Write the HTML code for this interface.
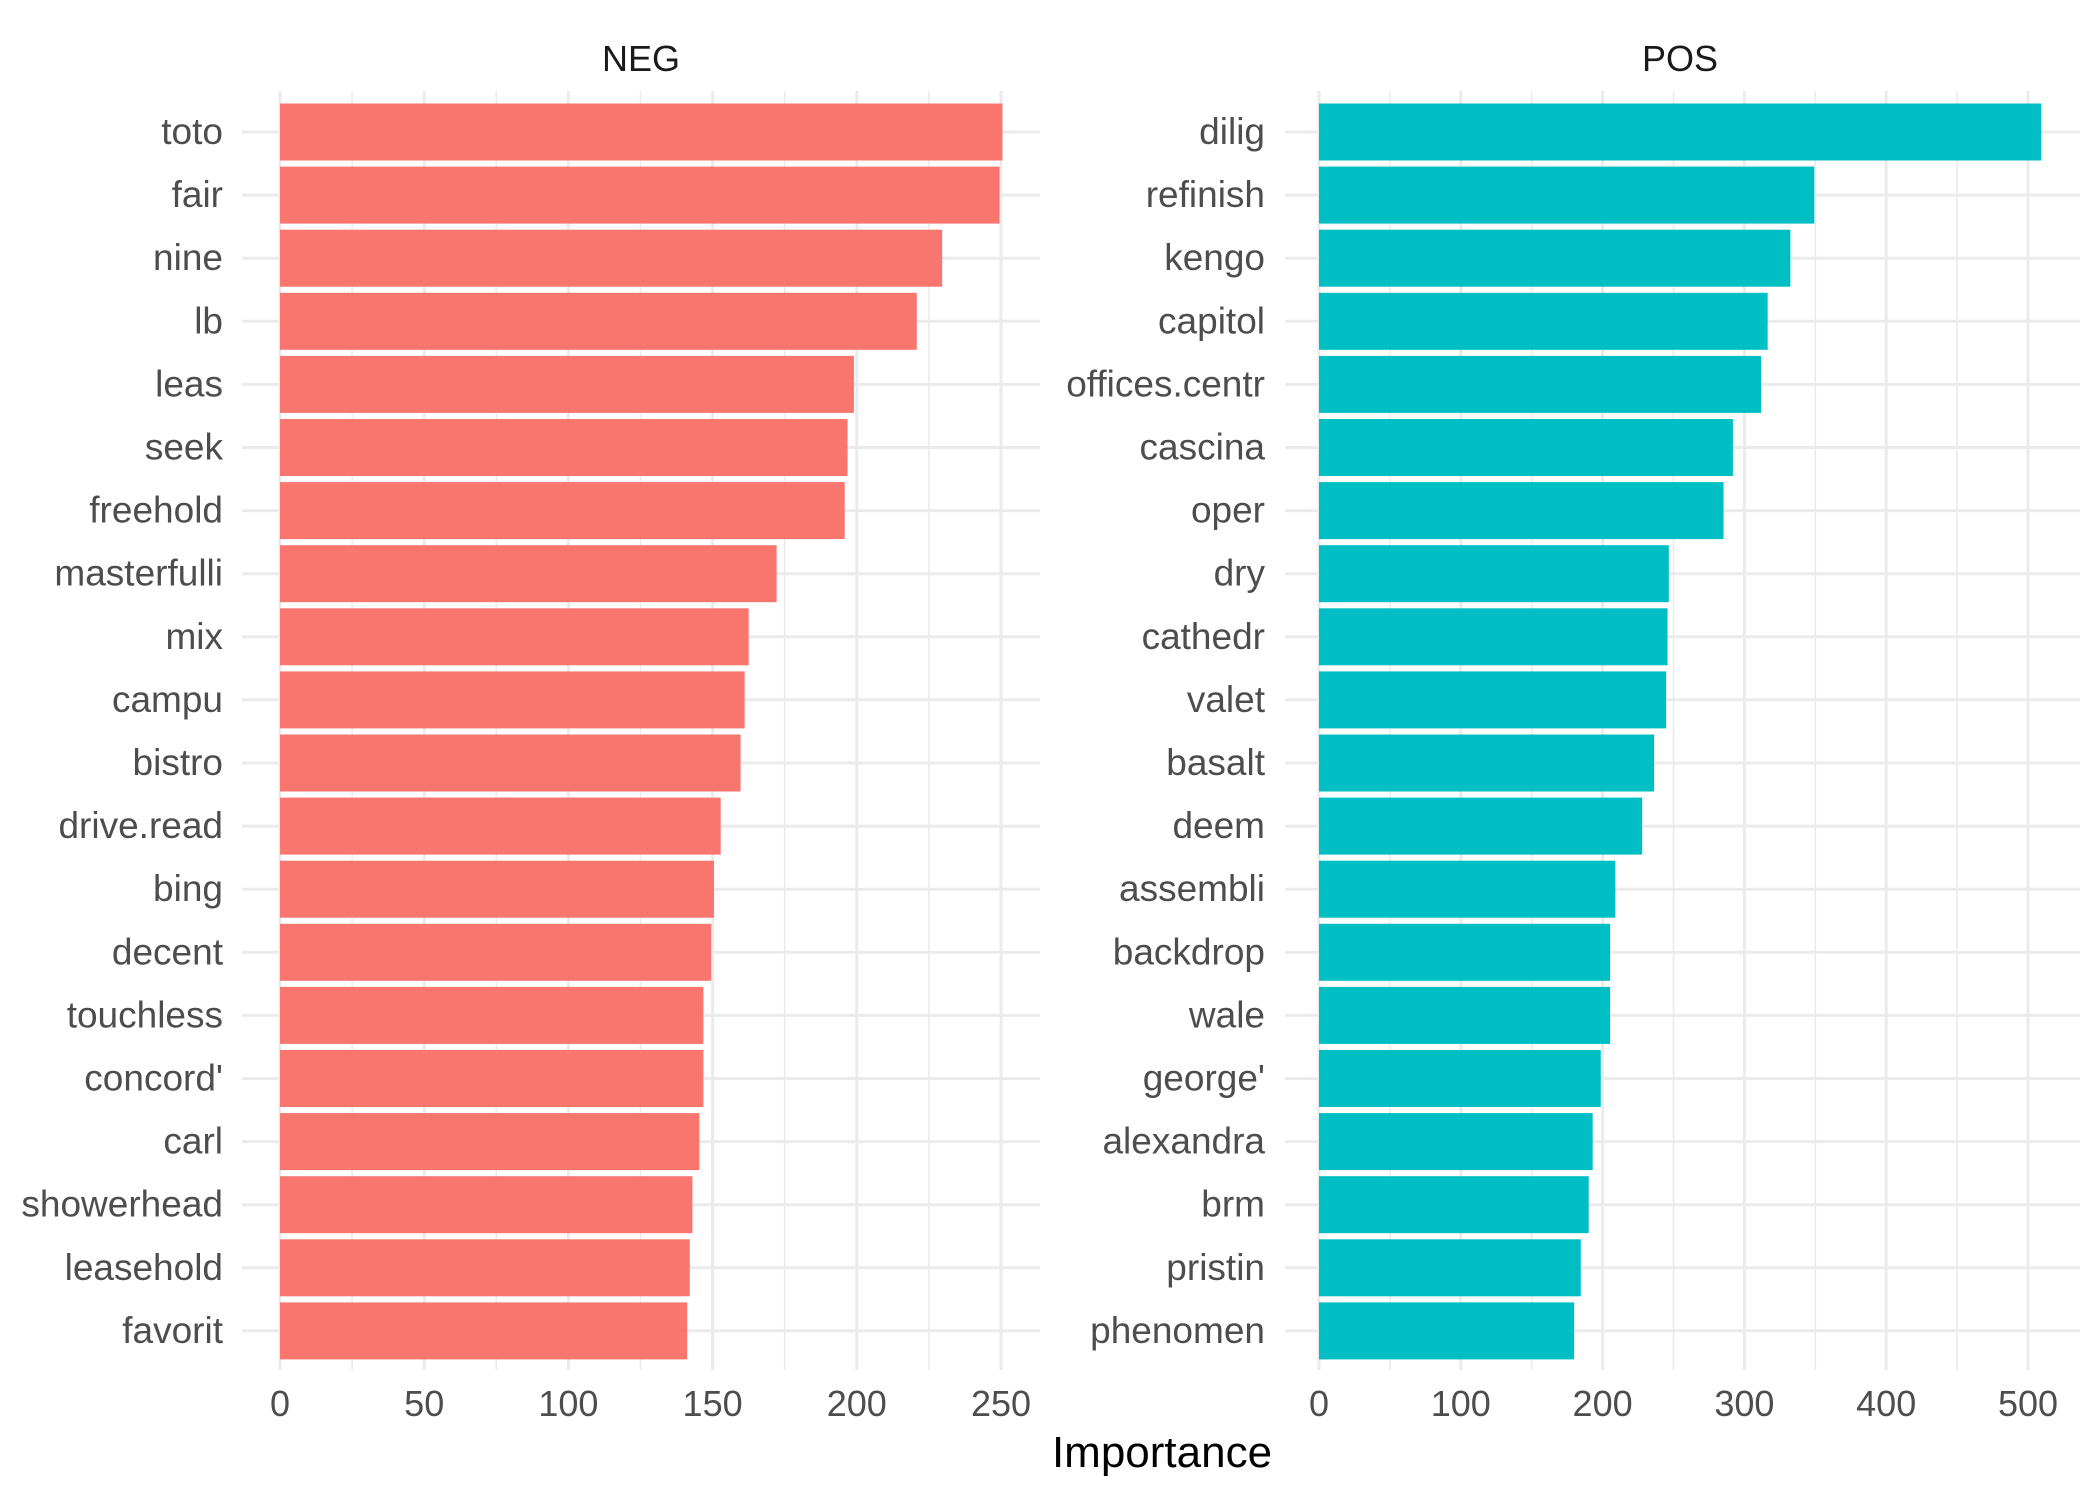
<!DOCTYPE html>
<html><head><meta charset="utf-8"><style>
html,body{margin:0;padding:0;background:#fff;}
svg{display:block;font-family:"Liberation Sans",Arial,sans-serif;}
</style></head><body>
<svg id="chart" width="2099" height="1499" viewBox="0 0 2099 1499"></svg>
<script>
const negTerms = ["toto","fair","nine","lb","leas","seek","freehold","masterfulli","mix","campu","bistro","drive.read","bing","decent","touchless","concord'","carl","showerhead","leasehold","favorit"];
const negValues = [250.5,249.5,229.6,220.8,199,196.8,195.8,172.2,162.5,161.1,159.7,152.8,150.5,149.5,146.8,146.8,145.4,143,142.1,141.2];
const posTerms = ["dilig","refinish","kengo","capitol","offices.centr","cascina","oper","dry","cathedr","valet","basalt","deem","assembli","backdrop","wale","george'","alexandra","brm","pristin","phenomen"];
const posValues = [509.4,349.3,332.4,316.4,311.7,291.9,285.3,246.7,245.8,244.8,236.3,227.9,209,205.3,205.3,198.7,193,190.2,184.6,179.9];
const negTicks = [0,50,100,150,200,250];
const posTicks = [0,100,200,300,400,500];

const NS = "http://www.w3.org/2000/svg";
const svg = document.getElementById('chart');
function mk(tag, attrs, parent){
  const e = document.createElementNS(NS, tag);
  for (const k in attrs) e.setAttribute(k, attrs[k]);
  (parent||svg).appendChild(e);
  return e;
}
const top0 = 91, bot0 = 1370;
const rowY0 = 132, rowStep = 63.1, barH = 57;
function yOf(i){ return rowY0 + i*rowStep; }

function panel(name, title, terms, values, ticks, x0, pxPerUnit, left, right, color, titleX, labelGap){
  const g = mk('g', {});
  
  
  const xs = v => x0 + v*pxPerUnit;
  const step = ticks[1]-ticks[0];
  for (let t = ticks[0] + step/2; xs(t) <= right; t += step){
    const l = mk('line', {x1:xs(t), x2:xs(t), y1:top0, y2:bot0, stroke:'#ebebeb', 'stroke-width':1.6}, g);
    
    
  }
  ticks.forEach(t => {
    const l = mk('line', {x1:xs(t), x2:xs(t), y1:top0, y2:bot0, stroke:'#ebebeb', 'stroke-width':3}, g);
    
    
  });
  terms.forEach((t,i) => {
    const l = mk('line', {x1:left, x2:right, y1:yOf(i), y2:yOf(i), stroke:'#ebebeb', 'stroke-width':3}, g);
    
    
  });
  values.forEach((v,i) => {
    const r = mk('rect', {x:xs(0), y:yOf(i)-barH/2, width:xs(v)-xs(0), height:barH, fill:color}, g);
    
    
    const tx = mk('text', {x:x0-labelGap, y:yOf(i)+12, 'text-anchor':'end', 'font-size':37, fill:'#4d4d4d'}, g);
    tx.textContent = terms[i];
    
    
  });
  ticks.forEach(t => {
    const tx = mk('text', {x:xs(t), y:1416, 'text-anchor':'middle', 'font-size':36, fill:'#4d4d4d'}, g);
    tx.textContent = t;
    
    
  });
  const st = mk('text', {x:titleX, y:71, 'text-anchor':'middle', 'font-size':36, fill:'#1a1a1a'}, g);
  st.textContent = title;
  
  
}
panel('neg', 'NEG', negTerms, negValues, negTicks, 280, (1001-280)/250, 242, 1040, '#f8766d', 641, 57);
panel('pos', 'POS', posTerms, posValues, posTicks, 1319, (2028-1319)/500, 1285, 2080, '#00bfc4', 1680, 54);
const xt = mk('text', {x:1162, y:1467, 'text-anchor':'middle', 'font-size':44, fill:'#000'});
xt.textContent = 'Importance';


</script>
</body></html>
